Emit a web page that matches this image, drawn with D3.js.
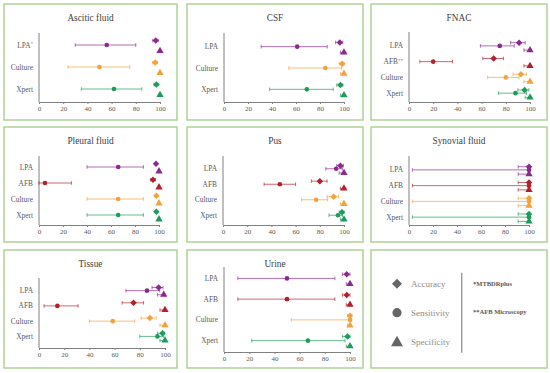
<!DOCTYPE html>
<html>
<head>
<meta charset="utf-8">
<script src="https://cdn.jsdelivr.net/npm/d3@7"></script>
<style>
    body { margin: 0; background: #fff; }
    svg { display: block; font-family: "Liberation Serif", "Times New Roman", serif; }
    .frame { fill: none; stroke: #a9d18e; stroke-width: 1.4; }
    .title { font-size: 9.3px; fill: #404040; }
    .test-label { font-size: 7.4px; fill: #595959; }
    .axis path, .axis line { stroke: #808080; }
    .axis text { font-size: 7px; fill: #595959; }
    .legend-text { font-size: 9px; fill: #8c8c8c; }
    .note-text { font-size: 6.5px; font-weight: bold; fill: #595959; }
</style>
</head>
<body>
<svg id="chart" width="550" height="373"></svg>
<script>
// Panels in reading order
const panelTitles = ['Ascitic fluid', 'CSF', 'FNAC', 'Pleural fluid', 'Pus', 'Synovial fluid', 'Tissue', 'Urine'];

// Tests shown in each panel, top to bottom
const panelTests = [
    ['LPA', 'Culture', 'Xpert'],
    ['LPA', 'Culture', 'Xpert'],
    ['LPA', 'AFB', 'Culture', 'Xpert'],
    ['LPA', 'AFB', 'Culture', 'Xpert'],
    ['LPA', 'AFB', 'Culture', 'Xpert'],
    ['LPA', 'AFB', 'Culture', 'Xpert'],
    ['LPA', 'AFB', 'Culture', 'Xpert'],
    ['LPA', 'AFB', 'Culture', 'Xpert']
];

// footnote marks on some labels: [panel, test, mark]
const footnoteMarks = [['Ascitic fluid', 'LPA', '*'], ['FNAC', 'AFB', '**']];

// values are [estimate, lower CI, upper CI], one per test
const accuracy = [
    [[96.5, 94, 98.5], [96, 94, 98], [97, 95, 99]],
    [[96.5, 93, 99], [98.5, 96, 100], [97, 94, 99]],
    [[91, 84, 96], [70, 61, 78], [92.5, 86, 97], [95.5, 90, 99]],
    [[97.5, 97.5, 97.5], [95, 93, 97], [97.8, 97.8, 97.8], [97.8, 97.8, 97.8]],
    [[97, 94, 99.5], [80, 73, 86], [91.5, 86, 95.5], [98.3, 96, 100]],
    [[100, 91, 100], [100, 91, 100], [100, 91, 100], [100, 91, 100]],
    [[95, 89.7, 98.4], [75, 66, 83], [88, 81, 93], [98, 94, 99.5]],
    [[97.4, 94, 100], [97.4, 94, 100], [100, 98, 100], [98, 94, 100]]
];

const sensitivity = [
    [[56, 30, 80], [50, 24, 75], [62, 35, 85]],
    [[61, 31, 86], [84.5, 54, 98], [69, 38, 91]],
    [[75, 59, 87], [20, 9, 36], [80, 65, 91], [88, 74, 97]],
    [[66, 40, 87], [5, 0, 27], [66, 40, 87], [66, 40, 87]],
    [[93.5, 85, 98.6], [47, 34, 60], [77, 65, 86.5], [95, 87.6, 98.6]],
    [[100, 2.8, 100], [100, 2.8, 100], [100, 2.8, 100], [100, 2.8, 100]],
    [[85.7, 69, 95.8], [14.6, 4, 31], [58.6, 40, 76], [94, 80, 99]],
    [[50, 11, 88], [50, 11, 88], [100, 53.4, 100], [66.6, 22, 96]]
];

const specificity = [
    [[100, 100, 100], [100, 100, 100], [100, 100, 100]],
    [[100, 97, 100], [100, 97, 100], [100, 97, 100]],
    [[100, 95, 100], [100, 95, 100], [100, 95, 100], [100, 96, 100]],
    [[100, 100, 100], [100, 100, 100], [100, 100, 100], [100, 100, 100]],
    [[100, 96, 100], [100, 97, 100], [100, 97, 100], [100, 97, 100]],
    [[100, 91, 100], [100, 91, 100], [100, 91, 100], [100, 91, 100]],
    [[99, 94, 100], [100, 96, 100], [100, 96, 100], [100, 96, 100]],
    [[100, 97, 100], [100, 97, 100], [100, 98, 100], [100, 97, 100]]
];

const xTicks = [0, 20, 40, 60, 80, 100];
const metrics = ['Accuracy', 'Sensitivity', 'Specificity'];
const notes = ['*MTBDRplus', '**AFB Microscopy'];

const testColors = { LPA: '#8b2a8c', AFB: '#b21f2d', Culture: '#f3a13a', Xpert: '#1c9b5b' };

// grid of framed panels
const cols = [[4, 177], [187, 363], [371, 547]];
const rows = [[4, 120], [127, 242], [250, 368]];

// plot area inside each frame: x0, x1, axis top, axis y, band top, band bottom
const plotBoxes = [
    [35, 156, 29, 98, 30, 96],
    [37, 157, 29, 98, 32, 96],
    [38, 159, 28, 98, 34, 97],
    [35, 155, 29, 98, 32, 96],
    [36, 157, 29, 98, 34, 96],
    [38, 158, 29, 98, 35, 98],
    [35, 161, 28, 98, 33, 94],
    [37, 163, 17, 102, 18, 101]
];

let svg = d3.select('#chart');
let metricValues = [accuracy, sensitivity, specificity];
let rowOffset = d3.scaleOrdinal().domain(metrics).range([-0.2, 0, 0.27]);

function markShape(metric) {
    if (metric === 'Accuracy') return d3.symbol(d3.symbolSquare, 21)();
    if (metric === 'Sensitivity') return d3.symbol(d3.symbolCircle, 17)();
    return d3.symbol(d3.symbolTriangle, 23)();
}

panelTitles.forEach((title, i) => {
    let col = i % 3, row = Math.floor(i / 3);
    let fx = cols[col][0], fy = rows[row][0];
    let fw = cols[col][1] - fx, fh = rows[row][1] - fy;
    let [x0, x1, axisTop, axisY, bandTop, bandBottom] = plotBoxes[i];

    let g = svg.append('g').attr('transform', `translate(${fx},${fy})`);

    g.append('rect').classed('frame', true).attr('width', fw).attr('height', fh);

    g.append('text').classed('title', true)
        .attr('x', fw / 2).attr('y', 16.5)
        .attr('text-anchor', 'middle')
        .text(title);

    let x = d3.scaleLinear().domain([0, 100]).range([x0, x1]);
    let y = d3.scaleBand().domain(panelTests[i]).range([bandTop, bandBottom]);
    let bw = y.bandwidth();

    //x axis
    let axis = g.append('g').classed('axis', true)
        .attr('transform', `translate(0,${axisY})`)
        .call(d3.axisBottom(x).tickValues(xTicks).tickSize(2).tickSizeOuter(0).tickPadding(2));
    axis.attr('font-family', null).attr('font-size', null);

    //y axis is a bare line
    g.append('line')
        .attr('x1', x0).attr('x2', x0)
        .attr('y1', axisTop).attr('y2', axisY)
        .attr('stroke', '#808080');

    //test labels
    let labels = g.selectAll('.test-label')
        .data(panelTests[i])
        .enter().append('text')
        .classed('test-label', true)
        .attr('x', x0 - 6)
        .attr('y', d => y(d) + bw / 2 + 2.6)
        .attr('text-anchor', 'end');
    labels.append('tspan').text(d => d);
    labels.append('tspan')
        .attr('dy', -2.5)
        .attr('font-size', '5px')
        .text(d => {
            let m = footnoteMarks.find(f => f[0] === title && f[1] === d);
            return m ? m[2] : '';
        });

    //flatten the three metrics for each test
    let marks = [];
    panelTests[i].forEach((test, j) => {
        metrics.forEach((metric, k) => {
            let v = metricValues[k][i][j];
            marks.push({ test: test, metric: metric, est: v[0], lo: v[1], hi: v[2],
                cy: y(test) + bw / 2 + rowOffset(metric) * bw });
        });
    });

    let bars = g.selectAll('.ci')
        .data(marks.filter(d => d.hi > d.lo))
        .enter().append('g')
        .classed('ci', true)
        .attr('stroke', d => testColors[d.test])
        .attr('stroke-opacity', 0.75)
        .attr('stroke-width', 0.9);
    bars.append('line')
        .attr('x1', d => x(d.lo)).attr('x2', d => x(d.hi))
        .attr('y1', d => d.cy).attr('y2', d => d.cy);
    bars.append('line')
        .attr('x1', d => x(d.lo)).attr('x2', d => x(d.lo))
        .attr('y1', d => d.cy - 1.8).attr('y2', d => d.cy + 1.8);
    bars.append('line')
        .attr('x1', d => x(d.hi)).attr('x2', d => x(d.hi))
        .attr('y1', d => d.cy - 1.8).attr('y2', d => d.cy + 1.8);

    g.selectAll('.mark')
        .data(marks)
        .enter().append('path')
        .classed('mark', true)
        .attr('d', d => markShape(d.metric))
        .attr('fill', d => testColors[d.test])
        .attr('transform', d => `translate(${x(d.est)},${d.cy})` + (d.metric === 'Accuracy' ? ' rotate(45)' : ''));
});

//Legend panel
let lx = cols[2][0], ly = rows[2][0];
let legend = svg.append('g').attr('transform', `translate(${lx},${ly})`);
legend.append('rect').classed('frame', true)
    .attr('width', cols[2][1] - lx).attr('height', rows[2][1] - ly);

let legendY = d3.scalePoint().domain(metrics).range([33.7, 91.7]);
let legendShapes = {
    Accuracy: d3.symbol(d3.symbolSquare, 50)(),
    Sensitivity: d3.symbol(d3.symbolCircle, 66)(),
    Specificity: d3.symbol(d3.symbolTriangle, 62)()
};

legend.selectAll('.legend-mark')
    .data(metrics)
    .enter().append('path')
    .attr('d', d => legendShapes[d])
    .attr('fill', '#666')
    .attr('transform', d => `translate(26,${legendY(d) + (d === 'Specificity' ? 1 : 0)})` + (d === 'Accuracy' ? ' rotate(45)' : ''));

legend.selectAll('.legend-text')
    .data(metrics)
    .enter().append('text')
    .classed('legend-text', true)
    .attr('x', 40)
    .attr('y', d => legendY(d) + 3)
    .text(d => d);

legend.append('line')
    .attr('x1', 90.7).attr('x2', 90.7)
    .attr('y1', 22.7).attr('y2', 102.7)
    .attr('stroke', '#999')
    .attr('stroke-width', 1.4);

legend.selectAll('.note-text')
    .data(notes)
    .enter().append('text')
    .classed('note-text', true)
    .attr('x', 102)
    .attr('y', (d, k) => 36 + k * 27.5)
    .text(d => d);
</script>
</body>
</html>
